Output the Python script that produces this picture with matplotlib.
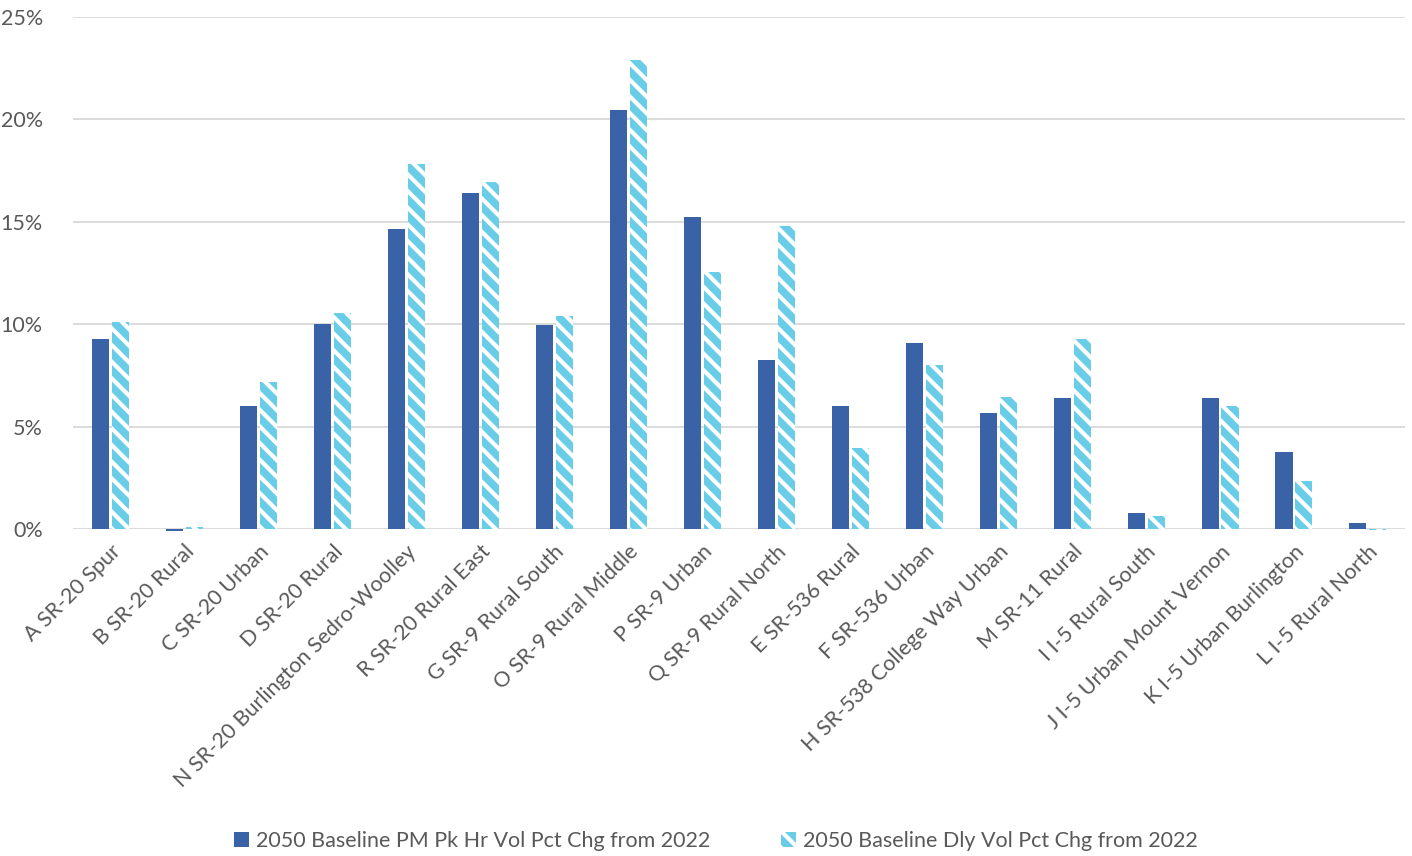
import numpy as np
import matplotlib
matplotlib.use('Agg')
import matplotlib.pyplot as plt
from matplotlib.patches import Patch

plt.rcParams['font.family'] = ['Lato', 'DejaVu Sans']
plt.rcParams['hatch.linewidth'] = 3.0

# Segments (x axis)
categories = [
    'A SR-20 Spur', 'B SR-20 Rural', 'C SR-20 Urban', 'D SR-20 Rural',
    'N SR-20 Burlington Sedro-Woolley', 'R SR-20 Rural East', 'G SR-9 Rural South',
    'O SR-9 Rural Middle', 'P SR-9 Urban', 'Q SR-9 Rural North', 'E SR-536 Rural',
    'F SR-536 Urban', 'H SR-538 College Way Urban', 'M SR-11 Rural',
    'I I-5 Rural South', 'J I-5 Urban Mount Vernon', 'K I-5 Urban Burlington',
    'L I-5 Rural North',
]

# percent change 2022 -> 2050
pm_peak = [9.3, -0.1, 6.0, 10.0, 14.65, 16.4, 9.95, 20.45, 15.25, 8.25,
           6.0, 9.1, 5.65, 6.4, 0.78, 6.4, 3.76, 0.29]
daily = [10.1, 0.1, 7.2, 10.55, 17.85, 16.95, 10.4, 22.9, 12.55, 14.8,
         3.95, 8.0, 6.45, 9.3, 0.64, 6.0, 2.35, -0.05]

series_names = ['2050 Baseline PM Pk Hr Vol Pct Chg from 2022',
                '2050 Baseline Dly Vol Pct Chg from 2022']
yticks = [0, 5, 10, 15, 20, 25]

dark = '#3A62A7'
light = '#6ACDE8'
grey_text = '#595959'

fig = plt.figure(figsize=(14.12, 8.56), dpi=100)
ax = fig.add_axes([0.052, 0.382, 0.943, 0.598])

x = np.arange(len(categories))
w = 0.23
gap = 0.02

ax.bar(x - w / 2 - gap, pm_peak, width=w, color=dark, zorder=3, clip_on=False)
ax.bar(x + w / 2 + gap, daily, width=w, color=light, hatch='\\\\',
       edgecolor='white', linewidth=0, zorder=3, clip_on=False)

ax.set_xlim(-0.5, len(categories) - 0.5)
ax.set_ylim(0, 25)
ax.set_yticks(yticks)
ax.set_yticklabels([f'{v}%' for v in yticks], fontsize=15.5, color=grey_text)
ax.yaxis.grid(True, color='#D9D9D9', linewidth=1.3, zorder=0)
ax.set_axisbelow(True)
for s in ax.spines.values():
    s.set_visible(False)
ax.tick_params(axis='both', length=0)
ax.tick_params(axis='y', pad=22)

ax.set_xticks(x)
ax.set_xticklabels(categories, rotation=45, ha='right', rotation_mode='anchor',
                   fontsize=15.5, color=grey_text)
ax.tick_params(axis='x', pad=9)

handles = [Patch(facecolor=dark, label=series_names[0]),
           Patch(facecolor=light, hatch='\\\\', edgecolor='white', linewidth=0,
                 label=series_names[1])]
fig.legend(handles=handles, loc='center', bbox_to_anchor=(0.507, 0.018), ncol=2,
           frameon=False, fontsize=15.5, handlelength=0.7, handleheight=0.7,
           handletextpad=0.3, columnspacing=3.3, labelcolor=grey_text)

fig.savefig('out.png', dpi=100)
